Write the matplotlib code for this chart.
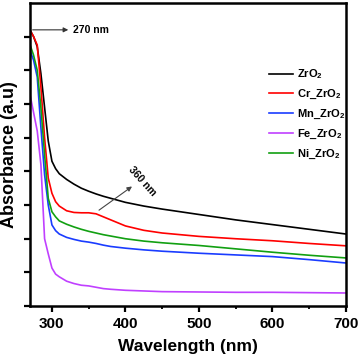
import matplotlib
matplotlib.use('Agg')
import matplotlib.pyplot as plt
from matplotlib.ticker import MultipleLocator

plt.rcParams['font.family'] = ['Liberation Sans', 'DejaVu Sans']
plt.rcParams['font.weight'] = 'bold'
plt.rcParams['mathtext.fontset'] = 'custom'
plt.rcParams['mathtext.bf'] = 'Liberation Sans:bold'
plt.rcParams['mathtext.rm'] = 'Liberation Sans:bold'
plt.rcParams['mathtext.default'] = 'bf'

# --- data ---
wl = [270, 275, 280, 285, 290, 295, 300, 305, 310, 320, 330, 340, 350, 360,
      370, 380, 400, 425, 450, 500, 550, 600, 650, 700]
zro2 = [8.2, 8.0, 7.7, 6.9, 5.9, 4.9, 4.3, 4.08, 3.93, 3.76, 3.62, 3.5, 3.41,
        3.33, 3.26, 3.2, 3.08, 2.97, 2.88, 2.72, 2.56, 2.42, 2.28, 2.14]
cr_zro2 = [8.2, 8.0, 7.75, 6.5, 5.0, 3.8, 3.35, 3.1, 2.97, 2.83, 2.78, 2.77,
           2.77, 2.74, 2.65, 2.56, 2.38, 2.25, 2.17, 2.07, 2.0, 1.94, 1.86, 1.79]
mn_zro2 = [7.6, 7.3, 6.8, 5.3, 3.9, 3.0, 2.41, 2.24, 2.14, 2.04, 1.98, 1.93,
           1.9, 1.86, 1.81, 1.77, 1.72, 1.67, 1.63, 1.57, 1.52, 1.47, 1.38, 1.28]
fe_zro2 = [6.3, 5.75, 5.2, 4.2, 2.0, 1.55, 1.13, 0.95, 0.87, 0.74, 0.67, 0.62,
           0.6, 0.56, 0.52, 0.5, 0.47, 0.45, 0.43, 0.42, 0.41, 0.41, 0.4, 0.39]
ni_zro2 = [7.77, 7.45, 7.0, 5.9, 4.5, 3.2, 2.8, 2.65, 2.53, 2.43, 2.35, 2.28,
           2.22, 2.17, 2.12, 2.08, 2.0, 1.93, 1.88, 1.8, 1.7, 1.6, 1.51, 1.43]

series = [
    ('ZrO$_2$', zro2, 'black'),
    ('Cr_ZrO$_2$', cr_zro2, '#ff0000'),
    ('Mn_ZrO$_2$', mn_zro2, '#1a3cff'),
    ('Fe_ZrO$_2$', fe_zro2, '#c040ff'),
    ('Ni_ZrO$_2$', ni_zro2, '#12a012'),
]

fig = plt.figure(figsize=(3.6, 3.61), dpi=100)
ax = fig.add_axes([0.083, 0.152, 0.878, 0.84])

for name, vals, col in series:
    ax.plot(wl, vals, color=col, lw=1.2, label=name)

ax.set_xlim(270, 700)
ax.set_ylim(0, 9)
ax.xaxis.set_major_locator(MultipleLocator(100))
ax.xaxis.set_minor_locator(MultipleLocator(50))
ax.set_yticks(range(0, 9))
ax.set_yticklabels([])
ax.tick_params(axis='both', which='major', direction='out', length=4, width=1.6,
               labelsize=11)
ax.tick_params(axis='x', which='minor', direction='out', length=2.5, width=1.3)
for sp in ax.spines.values():
    sp.set_linewidth(1.8)

ax.set_xlabel('Wavelength (nm)', fontsize=12.5, fontweight='bold', labelpad=6)
ax.set_ylabel('Absorbance (a.u)', fontsize=13, fontweight='bold', labelpad=1)

# annotations
ax.annotate('', xy=(326, 8.2), xytext=(270, 8.2),
            arrowprops=dict(arrowstyle='-|>', color='#333333', lw=0.8,
                            mutation_scale=7))
ax.text(328, 8.2, '270 nm', fontsize=7.5, fontweight='bold', va='center', ha='left')
ax.annotate('', xy=(412, 3.6), xytext=(361, 2.8),
            arrowprops=dict(arrowstyle='-|>', color='#444444', lw=0.8,
                            mutation_scale=7))
ax.text(423, 3.7, '360 nm', fontsize=7.5, fontweight='bold', rotation=-48,
        ha='center', va='center', rotation_mode='anchor')

ax.legend(loc='upper right', bbox_to_anchor=(1.03, 0.82), frameon=False,
          fontsize=8, handlelength=2.1, handletextpad=0.4, labelspacing=0.6)

fig.savefig('out.png', dpi=100)
